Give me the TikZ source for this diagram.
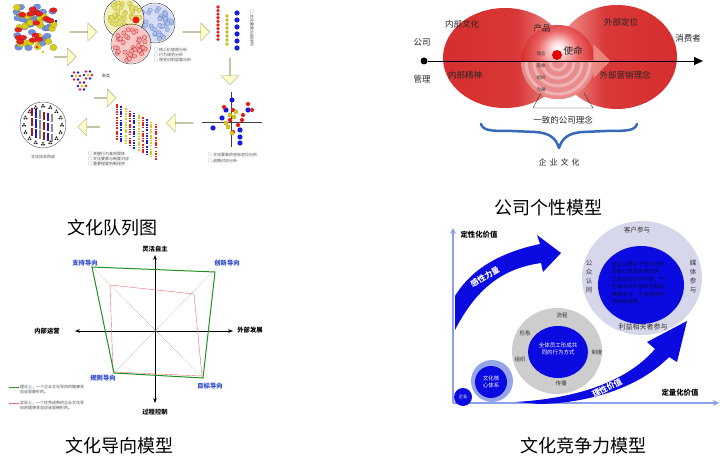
\documentclass[tikz,border=0pt]{standalone}
\usepackage{fontspec}
\setmainfont{Noto Sans CJK SC}
\usetikzlibrary{calc}
\usetikzlibrary{math}
\usetikzlibrary{shapes}
\usetikzlibrary{shapes.arrows}
\usetikzlibrary{arrows.meta}

\pgfdeclarehorizontalshading{ellLeft}{100bp}{rgb(0bp)=(0.84,0.18,0.18); rgb(25bp)=(0.84,0.18,0.18); rgb(55bp)=(0.85,0.22,0.22); rgb(75bp)=(0.95,0.64,0.62); rgb(100bp)=(0.95,0.64,0.62)}
\pgfdeclarehorizontalshading{ellRight}{100bp}{rgb(0bp)=(0.95,0.64,0.62); rgb(25bp)=(0.95,0.64,0.62); rgb(45bp)=(0.85,0.22,0.22); rgb(75bp)=(0.84,0.18,0.18); rgb(100bp)=(0.84,0.18,0.18)}
\pgfdeclareradialshading{spot}{\pgfpoint{0bp}{10bp}}{rgb(0bp)=(1,1,1); rgb(4bp)=(1,0.88,0.88); rgb(14bp)=(0.92,0.40,0.40); rgb(25bp)=(0.84,0.18,0.18); rgb(50bp)=(0.84,0.18,0.18)}

\begin{document}
\begin{tikzpicture}[x=1pt,y=-1pt]
    \definecolor{cluRed}{RGB}{235, 30, 30}
    \definecolor{cluBlue}{RGB}{115, 145, 225}
    \definecolor{cluYellow}{RGB}{215, 205, 25}
    \definecolor{cluDeep}{RGB}{20, 30, 220}
    \definecolor{arrFill}{RGB}{255, 255, 200}
    \definecolor{arrEdge}{RGB}{165, 165, 130}
    \definecolor{ellRed}{RGB}{214, 45, 45}
    \definecolor{pinkArr}{RGB}{240, 150, 140}
    \definecolor{braceBlue}{RGB}{55, 105, 185}
    \definecolor{grn}{RGB}{35, 145, 35}
    \definecolor{redLine}{RGB}{240, 110, 110}
    \definecolor{lblBlue}{RGB}{40, 70, 205}
    \definecolor{deepBlue}{RGB}{10, 10, 225}
    \definecolor{lavender}{RGB}{215, 215, 235}
    \definecolor{ringGrey}{RGB}{205, 205, 205}
    \definecolor{ringBlue}{RGB}{150, 165, 232}
    \definecolor{axBlue}{RGB}{140, 160, 240}
    \definecolor{navyTxt}{RGB}{10, 10, 70}

    \tikzmath {
        \arrL = 27;
        \arrW = 18;
        \cirR = 19;
    }

    \tikzstyle{blockarr}=[shape=single arrow, draw=arrEdge, fill=arrFill, minimum height=\arrL pt, minimum width=\arrW pt, single arrow head extend=4pt, inner sep=0pt]
    \tikzstyle{captxt}=[font=\fontsize{18}{20}\selectfont, inner sep=0pt]
    \tikzstyle{tinytxt}=[font=\fontsize{4}{5}\selectfont, inner sep=0pt, text=black!70, align=left]
    \tikzstyle{redlbl}=[font=\fontsize{8.5}{10}\selectfont, inner sep=0pt, text=black!85]
    \tikzstyle{smalllbl}=[font=\fontsize{4.5}{5}\selectfont, inner sep=0pt, text=black!80]
    \tikzstyle{axlbl}=[font=\bfseries\fontsize{6.3}{7}\selectfont, inner sep=0pt]
    \tikzstyle{orient}=[font=\bfseries\fontsize{6.3}{7}\selectfont, inner sep=0pt, text=lblBlue]
    \tikzstyle{ringlbl}=[font=\fontsize{6.5}{9}\selectfont, inner sep=0pt, text=black!80, align=center]
    \tikzstyle{whitetxt}=[font=\fontsize{5.5}{7.5}\selectfont, text=white, align=center, inner sep=0pt]
    \tikzstyle{bandtxt}=[font=\bfseries\fontsize{8}{9}\selectfont, text=white, inner sep=0pt]

    \useasboundingbox (0,0) rectangle (720,470);
    \fill[white] (0,0) rectangle (720,470);

    % ---------------- culture queue ----------------
    \pgfmathsetseed{42}
    \foreach \i in {1,...,34} {
        \pgfmathsetmacro\px{16+38*rnd}
        \pgfmathsetmacro\py{6+42*rnd}
        \filldraw[fill=cluBlue, draw=cluBlue!70!black, very thin] (\px,\py) ellipse (3.8 and 2.8);
    }
    \foreach \i in {1,...,22} {
        \pgfmathsetmacro\px{16+38*rnd}
        \pgfmathsetmacro\py{6+42*rnd}
        \filldraw[fill=cluYellow, draw=cluYellow!70!black, very thin] (\px,\py) ellipse (3.5 and 3.2);
    }
    \foreach \i in {1,...,16} {
        \pgfmathsetmacro\px{16+38*rnd}
        \pgfmathsetmacro\py{6+40*rnd}
        \filldraw[fill=cluRed, draw=cluRed!70!black, very thin] (\px,\py) ellipse (3.7 and 2.4);
    }
    \fill[cluYellow] (42,51) rectangle +(2,2);
    \fill[cluRed] (36,46) rectangle +(2,2);
    \fill[cluDeep] (55,20) rectangle +(2,2);

    \node[blockarr] (arr_a) at (83,32) {};

    \coordinate (blu_c) at (155,23);
    \coordinate (yel_c) at (124,18);
    \coordinate (red_c) at (131,44);
    \fill[cluBlue!30] (blu_c) circle (\cirR);
    \foreach \i in {1,...,42} {
        \pgfmathsetmacro\ang{360*rnd}
        \pgfmathsetmacro\rad{17*sqrt(rnd)}
        \filldraw[fill=cluBlue!55, draw=cluBlue!80!black, very thin] ($(blu_c)+(\ang:\rad)$) circle (2.2);
    }
    \draw[black!80, thin] (blu_c) circle (\cirR+1);
    \fill[cluYellow!30] (yel_c) circle (\cirR);
    \foreach \i in {1,...,42} {
        \pgfmathsetmacro\ang{360*rnd}
        \pgfmathsetmacro\rad{17*sqrt(rnd)}
        \filldraw[fill=cluYellow!60, draw=cluYellow!80!black, very thin] ($(yel_c)+(\ang:\rad)$) circle (2.2);
    }
    \draw[black!80, thin] (yel_c) circle (\cirR+1);
    \fill[cluRed!25] (red_c) circle (\cirR);
    \foreach \i in {1,...,42} {
        \pgfmathsetmacro\ang{360*rnd}
        \pgfmathsetmacro\rad{17*sqrt(rnd)}
        \filldraw[fill=cluRed!40, draw=cluRed!80!black, very thin] ($(red_c)+(\ang:\rad)$) circle (2.2);
    }
    \draw[black!80, thin] (red_c) circle (\cirR+1);
    \fill[cluRed] (136,20) circle (3.5);
    \foreach \t [count=\k] in {□ 核心价值观分析, □ 行为规范分析, □ 视觉识别层面分析}
        \node[tinytxt, anchor=west] (leg_cir\k) at (154,45+5*\k) {\t};

    \node[blockarr] (arr_b) at (196,32) {};

    \foreach \k in {0,...,9}
        \fill[cluRed] (218,7+3.6*\k) circle (1.8);
    \foreach \k in {0,...,7}
        \filldraw[fill=cluYellow, draw=cluYellow!70!black, very thin] (227,16+4*\k) circle (1.6);
    \foreach \k in {0,...,5}
        \fill[cluDeep] (237,13+7*\k) circle (2.6);
    \node[tinytxt, rotate=-90] (col_txt) at (252,28) {□ 文化要素分层排列};

    \node[blockarr, shape border rotate=270] (arr_c) at (230,71) {};

    \coordinate (sc_l) at (202,122);
    \coordinate (sc_r) at (262,122);
    \coordinate (sc_t) at (231,92);
    \coordinate (sc_b) at (231,147);
    \draw[black!75, thick] (sc_l) -- (sc_r);
    \draw[black!75, thick] (sc_t) -- (sc_b);
    \foreach \p in {(232,100),(248,110),(222,118),(213,128),(240,130),(240,137),(240,143),(226,110)}
        \fill[cluDeep] \p circle (2.6);
    \foreach \p in {(224,107),(233,110),(243,115),(248,104),(238,125),(233,132),(242,120),(230,120),(252,110)}
        \fill[cluRed] \p circle (2.1);
    \foreach \p in {(230,115),(234,117),(228,127),(232,133),(236,112),(226,123)}
        \filldraw[fill=cluYellow, draw=cluYellow!70!black, very thin] \p circle (2.1);
    \foreach \t [count=\k] in {□ 文化要素的坐标定位分析, □ 战略对应分析}
        \node[tinytxt, anchor=west] (leg_sc\k) at (208,149+6*\k) {\t};

    \node[blockarr, shape border rotate=180] (arr_d) at (180,123) {};

    \foreach \i in {0,...,9} {
        \pgfmathtruncatemacro\m{mod(\i,3)}
        \ifcase\m \def\gc{cluRed}\or \def\gc{cluDeep}\or \def\gc{cluYellow}\fi
        \foreach \j in {0,...,13} {
            \pgfmathtruncatemacro\gap{\j/5}
            \fill[\gc] (116+4.3*\i,104+2.2*\i+2.4*\j+1.5*\gap) rectangle +(2,1.6);
        }
    }
    \foreach \t [count=\k] in {□ 关键行为准则提炼, □ 文化要素与制度对应, □ 重要程度判断排序}
        \node[tinytxt, anchor=west] (leg_gr\k) at (88,149+5*\k) {\t};

    \node[blockarr, minimum height=22pt, shape border rotate=-45] (arr_e) at (65,57) {};
    \foreach \cx/\cy in {76/76, 88/75, 82/86} {
        \foreach \a in {0,60,...,300} {
            \pgfmathtruncatemacro\q{mod(\a/60,2)}
            \ifnum\q=0 \def\fc{cluRed}\else \def\fc{cluDeep}\fi
            \fill[\fc] ($(\cx,\cy)+(\a:4)$) circle (1.3);
        }
        \fill[cluYellow] (\cx,\cy) circle (1.6);
    }
    \node[tinytxt] (fl_txt) at (106,76) {聚类};
    \node[blockarr, minimum height=22pt, shape border rotate=-45] (arr_f) at (105,98) {};

    \node[blockarr, minimum height=22pt, shape border rotate=180] (arr_g) at (89,127) {};

    \coordinate (bc) at (43,125);
    \draw[black!70] (bc) circle (23);
    \foreach \a in {0,22.5,...,337.5} {
        \fill[black!85] ($(bc)+(\a:19)+(0,-1.2)$) circle (1);
        \fill[black!85] ($(bc)+(\a:19)+(-1.1,0.8)$) circle (1);
        \fill[black!85] ($(bc)+(\a:19)+(1.1,0.8)$) circle (1);
    }
    \foreach \i in {0,...,5} {
        \pgfmathtruncatemacro\m{mod(\i,3)}
        \ifcase\m \def\gc{cluRed!70!black}\or \def\gc{cluDeep}\or \def\gc{black!45}\fi
        \foreach \j in {0,...,2}
            \fill[\gc] (31+4*\i,108+10*\j+1.2*\i) rectangle +(1.6,8.5);
    }
    \node[tinytxt] (bc_txt) at (43,157) {文化体系构成};

    \node[captxt] (cap_a) at (112,228) {文化队列图};

    % ---------------- company personality ----------------
    \coordinate (ell_l) at (505,58);
    \coordinate (ell_r) at (617,57);
    \coordinate (mid_c) at (558,62);
    \shade[shading=ellRight] (ell_r) ellipse (60 and 52);
    \shade[shading=ellLeft] (ell_l) ellipse (62 and 50);
    \shade[shading=spot] (mid_c) circle (37);
    \fill[ellRed!55!white] ($(mid_c)+(37,0)$) arc [start angle=0, end angle=180, radius=37] -- cycle;
    \foreach \rr in {8,16,24,32}
        \draw[white, opacity=0.35, line width=3pt] ($(mid_c)+(\rr,0)$) arc [start angle=0, end angle=180, radius=\rr];
    \node[shape=single arrow, fill=pinkArr, opacity=0.8, minimum height=52pt, minimum width=34pt, single arrow head extend=5pt, inner sep=0pt] (pink_arr) at (584,61) {};
    \fill[red!90!black] (557,55) circle (5);

    \node[circle, fill=black, inner sep=0pt, minimum size=7pt] (co_dot) at (424,61) {};
    \coordinate (co_end) at (703,61);
    \draw[thick, -{Triangle[length=9pt,width=8pt]}] (co_dot) -- (co_end);

    \node[redlbl] (lb_gs) at (422,42) {公司};
    \node[redlbl] (lb_gl) at (422,79) {管理};
    \node[redlbl] (lb_nbwh) at (462,24) {内部文化};
    \node[redlbl] (lb_nbjs) at (465,75) {内部精神};
    \node[redlbl] (lb_cp) at (542,28) {产品};
    \node[redlbl, font=\fontsize{9.5}{10}\selectfont] (lb_sm) at (573,51) {使命};
    \node[redlbl] (lb_wbdw) at (621,22) {外部定位};
    \node[redlbl] (lb_wbyx) at (625,75) {外部营销理念};
    \node[redlbl] (lb_xfz) at (688,38) {消费者};
    \foreach \t [count=\k] in {理念, 形象, 组织, 沟通}
        \node[smalllbl] (lb_in\k) at (541,42+12*\k) {\t};

    \coordinate (tz_tl) at (541,93);
    \coordinate (tz_tr) at (584,93);
    \coordinate (tz_bl) at (533,108);
    \coordinate (tz_br) at (593,108);
    \draw[black!80] (tz_tl) -- (tz_bl) -- (tz_br) -- (tz_tr);
    \node[redlbl] (lb_yz) at (563,120) {一致的公司理念};

    \coordinate (br_l) at (481,124);
    \coordinate (br_m) at (559,148);
    \coordinate (br_r) at (637,124);
    \draw[braceBlue, line width=2.5pt, line cap=round] (br_l) .. controls (483,131) and (492,131) .. (512,131) -- (535,132) .. controls (551,133) and (556,139) .. (br_m);
    \draw[braceBlue, line width=2.5pt, line cap=round] (br_m) .. controls (562,139) and (567,133) .. (583,132) -- (606,131) .. controls (626,131) and (635,131) .. (br_r);
    \node[redlbl, font=\fontsize{8}{9}\selectfont] (lb_qywh) at (559,162) {企\hspace{3pt}业\hspace{3pt}文\hspace{3pt}化};

    \node[captxt] (cap_b) at (548,208) {公司个性模型};

    % ---------------- culture orientation ----------------
    \coordinate (or_t) at (155,255);
    \coordinate (or_b) at (155,403);
    \coordinate (or_l) at (75,331);
    \coordinate (or_r) at (233,331);
    \draw[thick, {Stealth[length=5pt]}-{Stealth[length=5pt]}] (or_l) -- (or_r);
    \draw[thick, {Stealth[length=5pt]}-{Stealth[length=5pt]}] (or_b) -- (or_t);

    \coordinate (g_sup) at (92,267);
    \coordinate (g_inn) at (215,272);
    \coordinate (g_tar) at (203,378);
    \coordinate (g_rul) at (114,373);
    \coordinate (r_sup) at (110,285);
    \coordinate (r_inn) at (194,294);
    \coordinate (r_tar) at (202,376);
    \coordinate (r_rul) at (113,372);
    \draw[black!50, densely dotted] (g_sup) -- (g_tar);
    \draw[black!50, densely dotted] ($(g_inn)+(2,-5)$) -- (g_rul);
    \draw[redLine, thin] (r_sup) -- (r_inn) -- (r_tar) -- (r_rul) -- cycle;
    \draw[grn, line width=1pt] (g_sup) -- (g_inn) -- (g_tar) -- (g_rul) -- cycle;

    \node[axlbl] (ax_top) at (155,249) {灵活自主};
    \node[axlbl] (ax_bot) at (155,412) {过程控制};
    \node[axlbl] (ax_lft) at (47,331) {内部运营};
    \node[axlbl] (ax_rgt) at (250,330) {外部发展};
    \node[orient] (o_sup) at (85,263) {支持导向};
    \node[orient] (o_inn) at (227,263) {创新导向};
    \node[orient] (o_rul) at (103,378) {规则导向};
    \node[orient] (o_tar) at (210,386) {目标导向};

    \coordinate (lg_g1) at (9,387);
    \coordinate (lg_g2) at (19,387);
    \coordinate (lg_r1) at (9,403);
    \coordinate (lg_r2) at (19,403);
    \draw[grn, line width=1pt] (lg_g1) -- (lg_g2);
    \draw[redLine, line width=1pt] (lg_r1) -- (lg_r2);
    \node[tinytxt, anchor=north west] (lg_gt) at (20,384.5) {理论上，一个企业文化导向的健康状\\态应是菱形的。};
    \node[tinytxt, anchor=north west] (lg_rt) at (20,400.5) {实际上，一个优秀成熟的企业文化导\\向的理想状态应该是梯形的。};

    \node[captxt] (cap_c) at (119,446) {文化导向模型};

    % ---------------- culture competitiveness ----------------
    \coordinate (qv_o) at (453,403);
    \coordinate (qv_t) at (453,228);
    \coordinate (qh_r) at (719,403);
    \draw[axBlue, line width=2pt, -{Stealth[length=6pt,width=6pt]}] (qv_o) -- (qv_t);
    \draw[axBlue, line width=2pt, -{Stealth[length=6pt,width=6pt]}] (qv_o) -- (qh_r);
    \node[axlbl, font=\bfseries\fontsize{7.4}{8}\selectfont] (q_ql) at (479,235) {定性化价值};
    \node[axlbl, font=\bfseries\fontsize{7.4}{8}\selectfont] (q_qn) at (680,393) {定量化价值};

    \fill[deepBlue] (455,296) .. controls (472,268) and (502,252) .. (540,244) -- (537,235) -- (561,253) -- (543,272) -- (541,263) .. controls (506,268) and (478,285) .. (455,330) -- cycle;
    \node[bandtxt, rotate=30] (band_up) at (485,277) {感性力量};
    \fill[deepBlue] (515,402) .. controls (585,398) and (630,378) .. (655,349) -- (647,342) -- (687,321) -- (677,362) -- (669,357) .. controls (640,387) and (590,403) .. (540,404) -- cycle;
    \node[bandtxt, rotate=27] (band_dn) at (607,388) {理性价值};

    \coordinate (big_c) at (642,278);
    \fill[lavender] (big_c) ellipse (60 and 57);
    \fill[deepBlue] (641,285) ellipse (43 and 39);
    \node[ringlbl] (r_kh) at (637,230) {客户参与};
    \node[ringlbl] (r_mt) at (693,276) {媒\\体\\参\\与};
    \node[ringlbl] (r_gz) at (589,277) {公\\众\\认\\同};
    \node[ringlbl, font=\fontsize{7}{8}\selectfont] (r_ly) at (643,327) {利益相关者参与};
    \node[font=\fontsize{5.3}{7.4}\selectfont, text=navyTxt, align=left, inner sep=0pt] (big_txt) at (638,283) {企业以团队个性行为和\\形象凸显其竞争优势，\\文化由内向外扩展，产\\生强大文化感染力和品\\牌推进力，企业获得市\\场的高回报。};

    \coordinate (mid_q) at (557,351);
    \fill[ringGrey] (mid_q) ellipse (45 and 43);
    \fill[deepBlue] (558,352) ellipse (30 and 26);
    \node[whitetxt] (mid_txt) at (558,349) {全体员工形成共\\同的行为方式};
    \node[ringlbl, font=\fontsize{5.5}{6}\selectfont] (m_lc) at (562,315) {流程};
    \node[ringlbl, font=\fontsize{5.5}{6}\selectfont] (m_xx) at (525,333) {形象};
    \node[ringlbl, font=\fontsize{5.5}{6}\selectfont] (m_zz) at (520,359) {组织};
    \node[ringlbl, font=\fontsize{5.5}{6}\selectfont] (m_zd) at (597,352) {制度};
    \node[ringlbl, font=\fontsize{5.5}{6}\selectfont] (m_cb) at (561,383) {传播};

    \coordinate (small_q) at (492,381);
    \fill[ringBlue] (small_q) circle (21);
    \fill[deepBlue] (491,382) circle (16);
    \node[whitetxt] (small_txt) at (491,382) {文化核\\心体系};

    \node[circle, fill=deepBlue, minimum size=18pt, inner sep=0pt, font=\fontsize{4.5}{5}\selectfont, text=white] (q_qy) at (463,397) {企业};

    \node[captxt] (cap_d) at (583,446) {文化竞争力模型};
\end{tikzpicture}
\end{document}
